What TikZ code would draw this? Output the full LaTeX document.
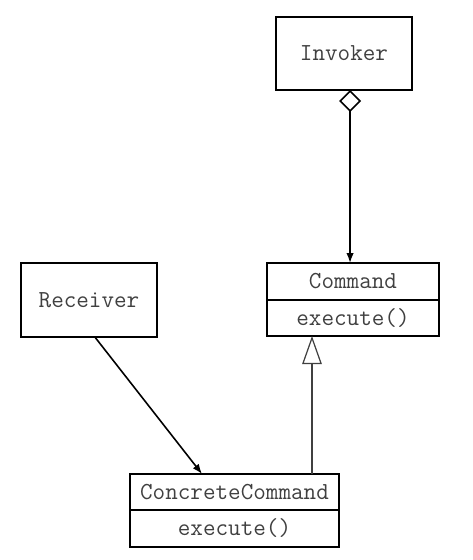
\documentclass[tikz,border=0pt]{standalone}
\usepackage{fontspec}
\usetikzlibrary{positioning,arrows.meta}

\begin{document}
\begin{tikzpicture}[x=0.2mm,y=-0.2mm,
    classbox/.style={draw,line width=1pt,inner sep=0pt,outer sep=0pt,
      text=black!75,font=\ttfamily\fontsize{13.9}{15}\selectfont},
    assoc/.style={line width=0.9pt,-{Latex[length=2mm,width=1.5mm]}},
    aggr/.style={line width=0.9pt,{Diamond[open,length=4.4mm,width=4.4mm]}-{Latex[length=2mm,width=1.5mm]}},
    inherit/.style={line width=0.7pt,draw=black!75,-{Triangle[open,length=5.6mm,width=3.9mm]}}]
    \useasboundingbox (0,0) rectangle (473,560);
    \node[classbox,minimum width=27.2mm,minimum height=14.6mm] (Invoker) at (344,53.5) {Invoker};
    \node[classbox,minimum width=27.2mm,minimum height=14.8mm] (Receiver) at (89,300) {Receiver};
    \node[classbox,minimum width=34.4mm,minimum height=7.4mm] (Command) at (353,281.5) {Command};
    \node[classbox,minimum width=34.4mm,minimum height=7.2mm,below=0pt of Command] (CommandOps) {execute()};
    \draw[line width=1.6pt] (Command.south west) -- (Command.south east);
    \node[classbox,minimum width=41.8mm,minimum height=7.2mm] (Concrete) at (234.5,492) {ConcreteCommand};
    \node[classbox,minimum width=41.8mm,minimum height=7.4mm,below=0pt of Concrete] (ConcreteOps) {execute()};
    \coordinate (gen) at (312,0);
    \draw[aggr] (Invoker.south -| Command.99) -- (Command.99);
    \draw[assoc] (Receiver.-81) -- (Concrete.151);
    \draw[inherit] (Concrete.north -| gen) -- (CommandOps.south -| gen);
\end{tikzpicture}
\end{document}
